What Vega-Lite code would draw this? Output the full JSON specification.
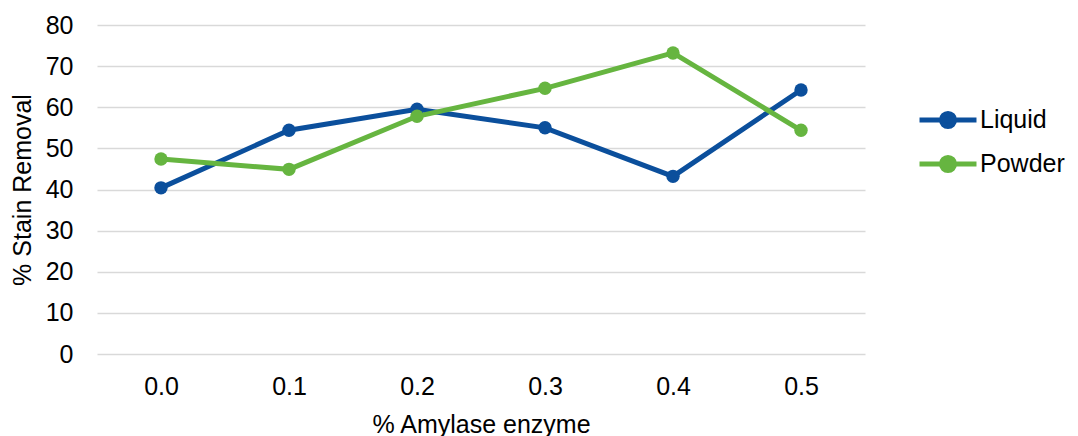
{
  "$schema": "https://vega.github.io/schema/vega-lite/v6.json",
  "width": 768,
  "height": 329,
  "autosize": {"type": "none"},
  "padding": {"left": 97, "top": 25, "right": 213, "bottom": 82},
  "background": "white",
  "data": {
    "values": [
      {"enzyme": "0.0", "series": "Liquid", "removal": 40.4},
      {"enzyme": "0.1", "series": "Liquid", "removal": 54.4},
      {"enzyme": "0.2", "series": "Liquid", "removal": 59.5},
      {"enzyme": "0.3", "series": "Liquid", "removal": 55.0},
      {"enzyme": "0.4", "series": "Liquid", "removal": 43.2},
      {"enzyme": "0.5", "series": "Liquid", "removal": 64.2},
      {"enzyme": "0.0", "series": "Powder", "removal": 47.4},
      {"enzyme": "0.1", "series": "Powder", "removal": 44.9},
      {"enzyme": "0.2", "series": "Powder", "removal": 57.8},
      {"enzyme": "0.3", "series": "Powder", "removal": 64.6},
      {"enzyme": "0.4", "series": "Powder", "removal": 73.2},
      {"enzyme": "0.5", "series": "Powder", "removal": 54.4}
    ]
  },
  "config": {
    "view": {"stroke": null},
    "font": "Liberation Sans",
    "axis": {
      "labelFont": "Liberation Sans",
      "titleFont": "Liberation Sans",
      "titleFontWeight": "normal",
      "labelColor": "#000000",
      "titleColor": "#000000",
      "ticks": false,
      "domain": false
    }
  },
  "encoding": {
    "x": {
      "field": "enzyme",
      "type": "ordinal",
      "sort": ["0.0", "0.1", "0.2", "0.3", "0.4", "0.5"],
      "scale": {"type": "point", "padding": 0.5},
      "axis": {
        "title": "% Amylase enzyme",
        "labelAngle": 0,
        "labelFontSize": 25,
        "titleFontSize": 25,
        "labelPadding": 20,
        "titlePadding": 13,
        "grid": false
      }
    },
    "y": {
      "field": "removal",
      "type": "quantitative",
      "scale": {"domain": [0, 80]},
      "axis": {
        "title": "% Stain Removal",
        "values": [0, 10, 20, 30, 40, 50, 60, 70, 80],
        "labelFontSize": 25,
        "titleFontSize": 25,
        "labelPadding": 24,
        "titlePadding": 10,
        "grid": true,
        "gridColor": "#d9d9d9",
        "gridWidth": 1.5
      }
    },
    "color": {
      "field": "series",
      "type": "nominal",
      "scale": {"domain": ["Liquid", "Powder"], "range": ["#0b4f9c", "#66b540"]},
      "legend": {
        "title": null,
        "orient": "none",
        "legendX": 834,
        "legendY": 78,
        "labelFont": "Liberation Sans",
        "labelFontSize": 25,
        "labelColor": "#000000",
        "symbolType": "M-2,0L2,0M0.46,0A0.46,0.46 0 1 1 -0.46,0A0.46,0.46 0 1 1 0.46,0Z",
        "symbolSize": 812,
        "symbolStrokeWidth": 5,
        "rowPadding": 10,
        "labelOffset": 15
      }
    }
  },
  "layer": [
    {"mark": {"type": "line", "strokeWidth": 5}},
    {"mark": {"type": "point", "filled": true, "size": 180, "opacity": 1}}
  ]
}
